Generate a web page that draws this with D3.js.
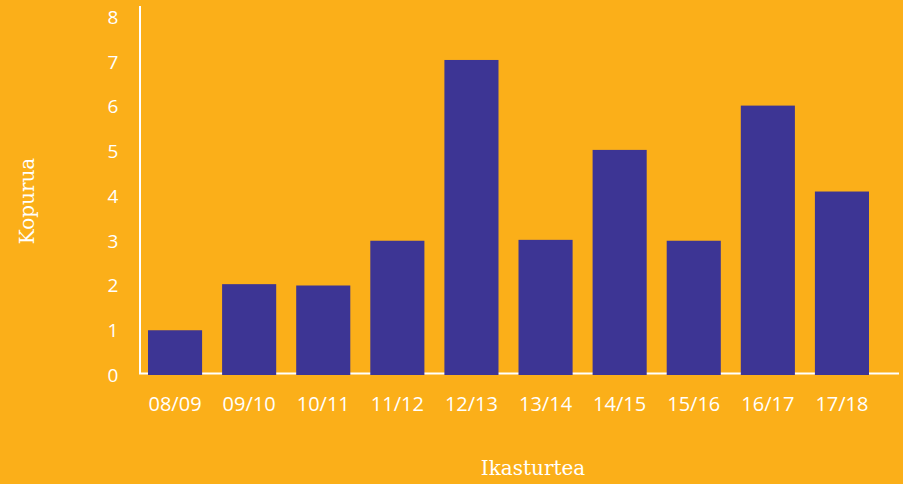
<!DOCTYPE html>
<html>
<head>
<meta charset="utf-8">
<script src="https://cdn.jsdelivr.net/npm/d3@7"></script>
<style>
  html, body { margin: 0; padding: 0; background: #FBAF19; }
  svg { display: block; }
</style>
</head>
<body>
<div id="chart"></div>
<script>
// ikasturteak eta kopuruak
const seasons = ["08/09", "09/10", "10/11", "11/12", "12/13", "13/14", "14/15", "15/16", "16/17", "17/18"];
const counts = [1, 2.03, 2, 3, 7.04, 3.02, 5.03, 3, 6.02, 4.1];
const yTicks = [0, 1, 2, 3, 4, 5, 6, 7, 8];

const width = 903;
const height = 484;
const bgColor = "#FBAF19";
const barColor = "#3D3594";

const svg = d3.select("#chart").append("svg")
    .attr("width", width)
    .attr("height", height);

svg.append("rect")
    .attr("width", width)
    .attr("height", height)
    .attr("fill", bgColor);

const x = d3.scaleBand()
    .domain(seasons)
    .range([138, 879])
    .paddingInner(0.27)
    .paddingOuter(0.135);

const y = d3.scaleLinear()
    .domain([0, 8])
    .range([375, 17]);

// ardatzak (barren azpian)
svg.append("line")
    .attr("x1", 140).attr("x2", 140)
    .attr("y1", 6).attr("y2", 374)
    .attr("stroke", "#fff")
    .attr("stroke-width", 2);

svg.append("line")
    .attr("x1", 139).attr("x2", 899)
    .attr("y1", 373.5).attr("y2", 373.5)
    .attr("stroke", "#fff")
    .attr("stroke-width", 2);

// barrak
svg.selectAll(".bar")
    .data(seasons)
    .enter()
    .append("rect")
    .attr("class", "bar")
    .attr("x", d => x(d))
    .attr("y", (d, i) => y(counts[i]))
    .attr("width", x.bandwidth())
    .attr("height", (d, i) => y(0) - y(counts[i]))
    .attr("fill", barColor);

const tickFont = "'Open Sans', 'Noto Sans', sans-serif";
const titleFont = "'DejaVu Serif', serif";

svg.selectAll(".ytick")
    .data(yTicks)
    .enter()
    .append("text")
    .attr("class", "ytick")
    .attr("x", 113)
    .attr("y", d => y(d))
    .attr("dy", "0.36em")
    .attr("text-anchor", "middle")
    .attr("font-family", tickFont)
    .attr("font-size", "19px")
    .attr("fill", "#fff")
    .text(d => d);

svg.selectAll(".xtick")
    .data(seasons)
    .enter()
    .append("text")
    .attr("class", "xtick")
    .attr("x", d => x(d) + x.bandwidth() / 2)
    .attr("y", 411)
    .attr("text-anchor", "middle")
    .attr("font-family", tickFont)
    .attr("font-size", "20px")
    .attr("fill", "#fff")
    .text(d => d);

svg.append("text")
    .attr("transform", "translate(34,201) rotate(-90)")
    .attr("text-anchor", "middle")
    .attr("font-family", titleFont)
    .attr("font-size", "20px")
    .attr("fill", "#fff")
    .text("Kopurua");

svg.append("text")
    .attr("x", 533)
    .attr("y", 475)
    .attr("text-anchor", "middle")
    .attr("font-family", titleFont)
    .attr("font-size", "20px")
    .attr("fill", "#fff")
    .text("Ikasturtea");
</script>
</body>
</html>
